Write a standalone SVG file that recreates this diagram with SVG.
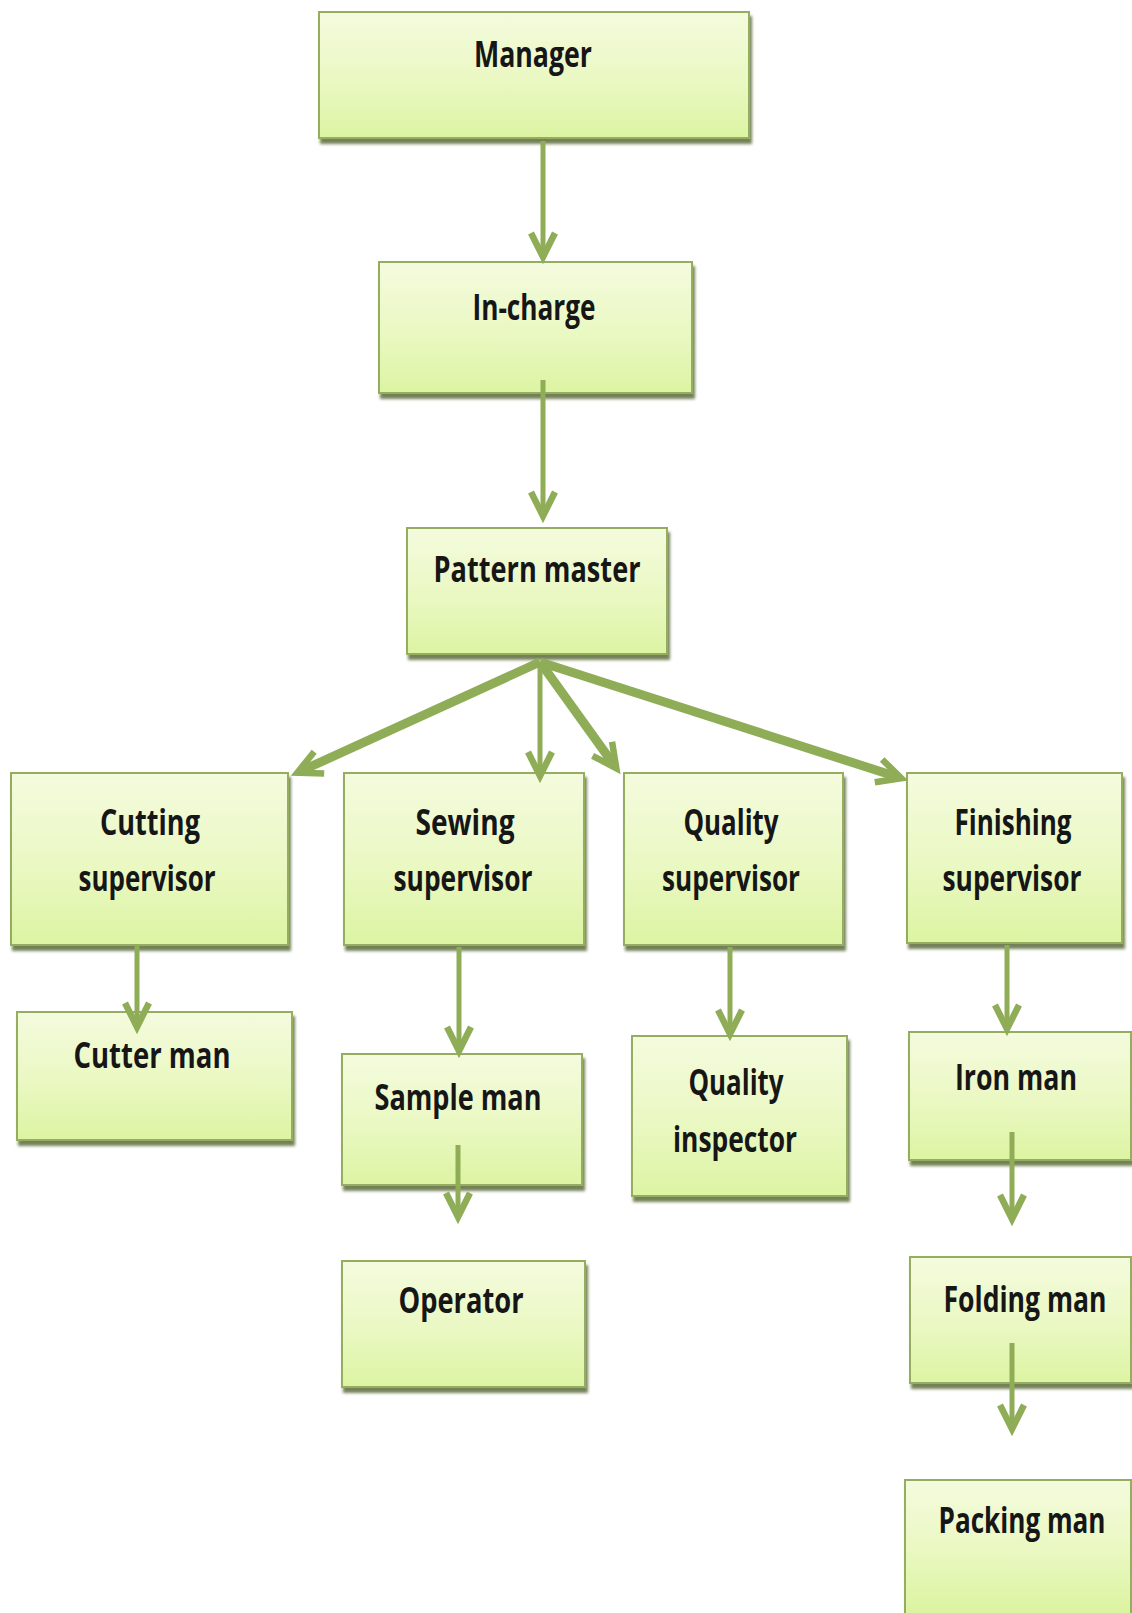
<svg xmlns="http://www.w3.org/2000/svg" width="1132" height="1613" viewBox="0 0 1132 1613">
<defs>
<linearGradient id="boxFill" x1="0" y1="0" x2="0" y2="1">
<stop offset="0" stop-color="#f4fbde"/>
<stop offset="0.55" stop-color="#eaf8c2"/>
<stop offset="1" stop-color="#dcf4a2"/>
</linearGradient>
<linearGradient id="boxFillTall" gradientUnits="userSpaceOnUse" x1="0" y1="1480" x2="0" y2="1608">
<stop offset="0" stop-color="#f4fbde"/>
<stop offset="0.55" stop-color="#eaf8c2"/>
<stop offset="1" stop-color="#dcf4a2"/>
</linearGradient>
<filter id="shadow" x="-5%" y="-5%" width="115%" height="120%">
<feDropShadow dx="2" dy="5" stdDeviation="1.4" flood-color="#657345" flood-opacity="0.9"/>
</filter>
<marker id="head" markerUnits="userSpaceOnUse" orient="auto" overflow="visible" refX="0" refY="0" markerWidth="30" markerHeight="30">
<path d="M -20 -12 L 4 0 L -20 12" fill="none" stroke="#8fac57" stroke-width="6.5" stroke-linejoin="miter"/>
</marker>
<style>
.box{fill:url(#boxFill);stroke:#94ad5e;stroke-width:2;filter:url(#shadow);}
.lbl{font-family:"Open Sans","Liberation Sans",sans-serif;font-weight:700;font-size:36px;fill:#161616;text-anchor:middle;}
.c{stroke:#8fac57;fill:none;marker-end:url(#head);}
.thin{stroke-width:5;}
.thick{stroke-width:9;}
</style>
</defs>
<rect width="1132" height="1613" fill="#ffffff"/>
<g id="manager"><rect class="box" x="319" y="12" width="430" height="126"/><text class="lbl" transform="translate(533 67) scale(0.75 1)" textLength="157.3" lengthAdjust="spacingAndGlyphs">Manager</text></g>
<g id="in-charge"><rect class="box" x="379" y="262" width="313" height="131"/><text class="lbl" transform="translate(534 320) scale(0.75 1)" textLength="164" lengthAdjust="spacingAndGlyphs">In-charge</text></g>
<g id="pattern-master"><rect class="box" x="407" y="528" width="260" height="126"/><text class="lbl" transform="translate(537 582) scale(0.75 1)" textLength="276" lengthAdjust="spacingAndGlyphs">Pattern master</text></g>
<g id="cutting-supervisor"><rect class="box" x="11" y="773" width="277" height="172"/><text class="lbl" transform="translate(150 835) scale(0.75 1)" textLength="133.3" lengthAdjust="spacingAndGlyphs">Cutting</text><text class="lbl" transform="translate(147 891) scale(0.75 1)" textLength="182.7" lengthAdjust="spacingAndGlyphs">supervisor</text></g>
<g id="sewing-supervisor"><rect class="box" x="344" y="773" width="240" height="172"/><text class="lbl" transform="translate(465 835) scale(0.75 1)" textLength="132" lengthAdjust="spacingAndGlyphs">Sewing</text><text class="lbl" transform="translate(463 891) scale(0.75 1)" textLength="185.3" lengthAdjust="spacingAndGlyphs">supervisor</text></g>
<g id="quality-supervisor"><rect class="box" x="624" y="773" width="219" height="172"/><text class="lbl" transform="translate(731 835) scale(0.75 1)" textLength="126.7" lengthAdjust="spacingAndGlyphs">Quality</text><text class="lbl" transform="translate(731 891) scale(0.75 1)" textLength="184" lengthAdjust="spacingAndGlyphs">supervisor</text></g>
<g id="finishing-supervisor"><rect class="box" x="907" y="773" width="215" height="170"/><text class="lbl" transform="translate(1013 835) scale(0.75 1)" textLength="156" lengthAdjust="spacingAndGlyphs">Finishing</text><text class="lbl" transform="translate(1012 891) scale(0.75 1)" textLength="185.3" lengthAdjust="spacingAndGlyphs">supervisor</text></g>
<g id="cutter-man"><rect class="box" x="17" y="1012" width="275" height="128"/><text class="lbl" transform="translate(152 1068) scale(0.75 1)" textLength="209.3" lengthAdjust="spacingAndGlyphs">Cutter man</text></g>
<g id="sample-man"><rect class="box" x="342" y="1054" width="240" height="131"/><text class="lbl" transform="translate(458 1110) scale(0.75 1)" textLength="222.7" lengthAdjust="spacingAndGlyphs">Sample man</text></g>
<g id="operator"><rect class="box" x="342" y="1261" width="243" height="126"/><text class="lbl" transform="translate(461 1313) scale(0.75 1)" textLength="166.7" lengthAdjust="spacingAndGlyphs">Operator</text></g>
<g id="quality-inspector"><rect class="box" x="632" y="1036" width="215" height="160"/><text class="lbl" transform="translate(736 1095) scale(0.75 1)" textLength="126.7" lengthAdjust="spacingAndGlyphs">Quality</text><text class="lbl" transform="translate(735 1152) scale(0.75 1)" textLength="165.3" lengthAdjust="spacingAndGlyphs">inspector</text></g>
<g id="iron-man"><rect class="box" x="909" y="1032" width="222" height="128"/><text class="lbl" transform="translate(1016 1090) scale(0.75 1)" textLength="162.7" lengthAdjust="spacingAndGlyphs">Iron man</text></g>
<g id="folding-man"><rect class="box" x="910" y="1257" width="221" height="126"/><text class="lbl" transform="translate(1025 1312) scale(0.75 1)" textLength="217.3" lengthAdjust="spacingAndGlyphs">Folding man</text></g>
<g id="packing-man"><rect class="box" x="905" y="1480" width="226" height="145" style="fill:url(#boxFillTall)"/><text class="lbl" transform="translate(1022 1533) scale(0.75 1)" textLength="222.7" lengthAdjust="spacingAndGlyphs">Packing man</text></g>
<g id="connectors">
<line class="c thin" x1="543" y1="141" x2="543" y2="253"/>
<line class="c thin" x1="543" y1="380" x2="543" y2="512"/>
<line class="c thick" x1="540" y1="662" x2="301" y2="771"/>
<line class="c thin" x1="540" y1="662" x2="540" y2="772"/>
<line class="c thick" x1="540" y1="662" x2="614" y2="765"/>
<line class="c thick" x1="540" y1="662" x2="897.5" y2="777"/>
<line class="c thin" x1="137" y1="945" x2="137" y2="1023"/>
<line class="c thin" x1="459" y1="947" x2="459" y2="1047"/>
<line class="c thin" x1="458" y1="1145" x2="458" y2="1213"/>
<line class="c thin" x1="730" y1="947" x2="730" y2="1030"/>
<line class="c thin" x1="1007" y1="945" x2="1007" y2="1025"/>
<line class="c thin" x1="1012" y1="1132" x2="1012" y2="1215"/>
<line class="c thin" x1="1012" y1="1343" x2="1012" y2="1425"/>
</g>
</svg>
